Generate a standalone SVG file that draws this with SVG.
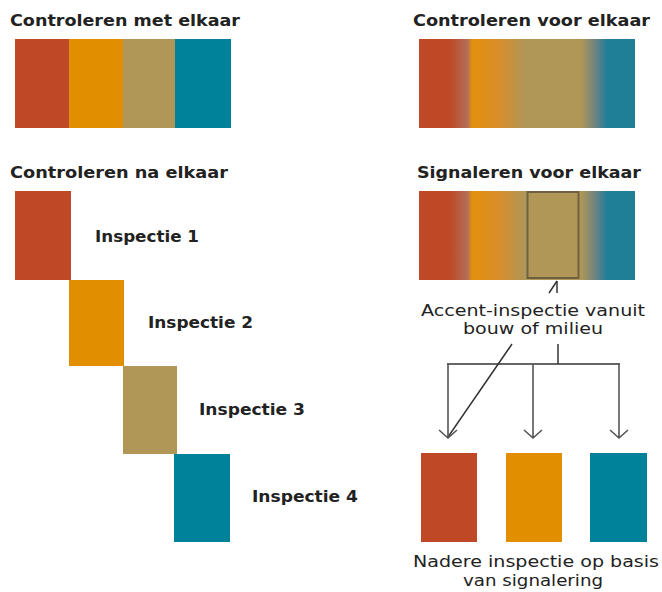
<svg xmlns="http://www.w3.org/2000/svg" width="662" height="592" viewBox="0 0 662 592">
<style>
.title{font-family:"DejaVu Sans","Liberation Sans",sans-serif;font-weight:bold;font-size:16px;fill:#222}
.lab{font-family:"DejaVu Sans","Liberation Sans",sans-serif;font-weight:bold;font-size:16px;fill:#222}
.txt{font-family:"DejaVu Sans","Liberation Sans",sans-serif;font-size:16px;fill:#222;text-anchor:middle}
.red{fill:#bf4826}.ora{fill:#e18f00}.tan{fill:#b09657}.teal{fill:#00839a}
.conn{stroke:#333;stroke-width:1.5;fill:none}
.arr{stroke:#555;stroke-width:1.6;fill:none}
</style>
<defs>
<linearGradient id="grad" x1="0" y1="0" x2="1" y2="0">
<stop offset="0" stop-color="#bf4826"/>
<stop offset="0.14" stop-color="#bf4826"/>
<stop offset="0.225" stop-color="#b26e58"/>
<stop offset="0.245" stop-color="#e3900e"/>
<stop offset="0.37" stop-color="#d88e2a"/>
<stop offset="0.49" stop-color="#b09657"/>
<stop offset="0.75" stop-color="#b09657"/>
<stop offset="0.83" stop-color="#5f8088"/>
<stop offset="0.87" stop-color="#1e7f96"/>
<stop offset="1" stop-color="#1e7f96"/>
</linearGradient>
</defs>
<rect width="662" height="592" fill="#fff"/>

<g id="met-elkaar">
<text class="title" x="10" y="26" textLength="230" lengthAdjust="spacingAndGlyphs">Controleren met elkaar</text>
<rect class="red" x="15" y="39" width="54" height="89"/>
<rect class="ora" x="69" y="39" width="54" height="89"/>
<rect class="tan" x="123" y="39" width="52" height="89"/>
<rect class="teal" x="175" y="39" width="56" height="89"/>
</g>

<g id="voor-elkaar">
<text class="title" x="413" y="26" textLength="237" lengthAdjust="spacingAndGlyphs">Controleren voor elkaar</text>
<rect x="419" y="39" width="216" height="89" fill="url(#grad)"/>
</g>

<g id="na-elkaar">
<text class="title" x="10" y="178" textLength="218" lengthAdjust="spacingAndGlyphs">Controleren na elkaar</text>
<rect class="red" x="15" y="191" width="56" height="89"/>
<rect class="ora" x="69" y="280" width="55" height="86"/>
<rect class="tan" x="123" y="366" width="54" height="88"/>
<rect class="teal" x="174" y="454" width="56" height="88"/>
<text class="lab" x="95" y="242" textLength="104" lengthAdjust="spacingAndGlyphs">Inspectie 1</text>
<text class="lab" x="148" y="328" textLength="105" lengthAdjust="spacingAndGlyphs">Inspectie 2</text>
<text class="lab" x="199" y="415" textLength="106" lengthAdjust="spacingAndGlyphs">Inspectie 3</text>
<text class="lab" x="252" y="502" textLength="106" lengthAdjust="spacingAndGlyphs">Inspectie 4</text>
</g>

<g id="signaleren">
<text class="title" x="417" y="178" textLength="224" lengthAdjust="spacingAndGlyphs">Signaleren voor elkaar</text>
<rect x="419" y="191" width="216" height="89" fill="url(#grad)"/>
<rect x="527.5" y="192" width="51" height="86" fill="#b09657" stroke="#6f6040" stroke-width="2"/>
</g>

<g id="accent-label">
<text class="txt" x="533" y="316" textLength="224" lengthAdjust="spacingAndGlyphs">Accent-inspectie vanuit</text>
<text class="txt" x="533" y="334" textLength="140" lengthAdjust="spacingAndGlyphs">bouw of milieu</text>
</g>

<g id="nadere">
<rect class="red" x="421" y="453" width="56" height="89"/>
<rect class="ora" x="506" y="453" width="56" height="89"/>
<rect class="teal" x="590" y="453" width="57" height="89"/>
<text class="txt" x="536" y="567" textLength="246" lengthAdjust="spacingAndGlyphs">Nadere inspectie op basis</text>
<text class="txt" x="533" y="586" textLength="140" lengthAdjust="spacingAndGlyphs">van signalering</text>
</g>

<g id="connectors">
<line class="conn" x1="557" y1="281" x2="549" y2="293"/>
<line class="conn" x1="557" y1="281" x2="557" y2="293"/>
<line class="conn" x1="512" y1="344" x2="448" y2="437"/>
<line class="conn" x1="558" y1="344" x2="558" y2="364"/>
<line class="conn" x1="447" y1="364" x2="620" y2="364"/>
<path class="arr" d="M448 364V438M439 430L448 438L457 430"/>
<path class="arr" d="M533 364V438M524 430L533 438L542 430"/>
<path class="arr" d="M619 364V438M610 430L619 438L628 430"/>
</g>
</svg>
